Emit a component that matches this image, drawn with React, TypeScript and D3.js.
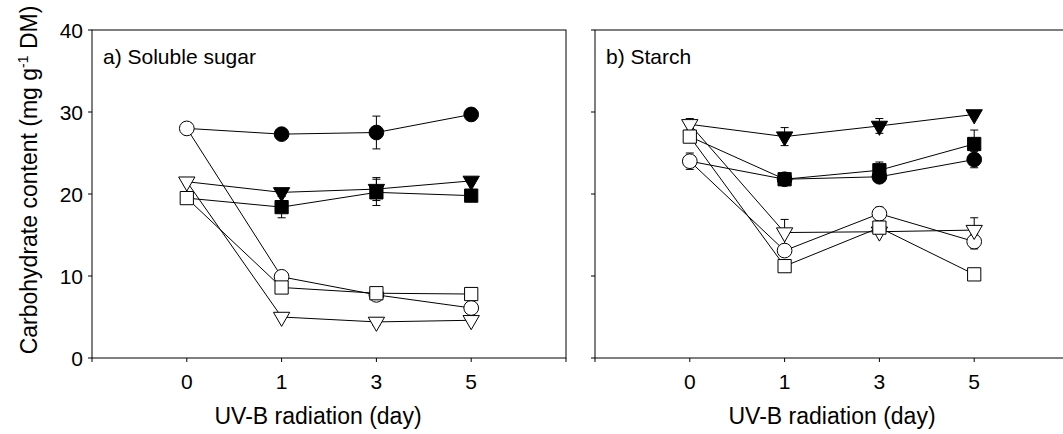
import * as React from "react";
import * as d3 from "d3";

// days of UV-B exposure
const days = ["0", "1", "3", "5"];
const yTicks = [0, 10, 20, 30, 40];

// a) soluble sugar
const sugarFilledCircle = [28.0, 27.3, 27.5, 29.7];
const sugarFilledCircleErr = [0, 0.3, 2.0, 0.3];
const sugarFilledTriangle = [21.5, 20.2, 20.6, 21.6];
const sugarFilledTriangleErr = [0, 0.3, 1.4, 0.3];
const sugarFilledSquare = [19.5, 18.4, 20.2, 19.8];
const sugarFilledSquareErr = [0, 1.3, 1.6, 0.3];
const sugarOpenCircle = [28.0, 9.9, 7.7, 6.1];
const sugarOpenCircleErr = [0.3, 0.3, 0.4, 0.3];
const sugarOpenTriangle = [21.5, 5.0, 4.4, 4.6];
const sugarOpenTriangleErr = [0.3, 0.2, 0.4, 0.3];
const sugarOpenSquare = [19.5, 8.6, 7.9, 7.8];
const sugarOpenSquareErr = [0.3, 0.3, 0.3, 0.2];

// b) starch
const starchFilledCircle = [24.0, 21.8, 22.1, 24.2];
const starchFilledCircleErr = [0, 0.3, 0.3, 1.0];
const starchFilledTriangle = [28.5, 27.0, 28.3, 29.7];
const starchFilledTriangleErr = [0, 1.1, 0.9, 0.3];
const starchFilledSquare = [27.0, 21.8, 22.9, 26.1];
const starchFilledSquareErr = [0, 0.2, 1.0, 1.7];
const starchOpenCircle = [24.0, 13.1, 17.6, 14.2];
const starchOpenCircleErr = [1.0, 0.4, 0.8, 0.9];
const starchOpenTriangle = [28.5, 15.3, 15.4, 15.6];
const starchOpenTriangleErr = [0.7, 1.6, 0.3, 1.5];
const starchOpenSquare = [27.0, 11.2, 15.9, 10.2];
const starchOpenSquareErr = [0.3, 0.3, 0.3, 0.2];

type Series = { v: number[]; e: number[]; shape: string; filled: boolean };

const sugarSeries: Series[] = [
  { v: sugarFilledCircle, e: sugarFilledCircleErr, shape: "circle", filled: true },
  { v: sugarFilledTriangle, e: sugarFilledTriangleErr, shape: "triangle", filled: true },
  { v: sugarFilledSquare, e: sugarFilledSquareErr, shape: "square", filled: true },
  { v: sugarOpenCircle, e: sugarOpenCircleErr, shape: "circle", filled: false },
  { v: sugarOpenTriangle, e: sugarOpenTriangleErr, shape: "triangle", filled: false },
  { v: sugarOpenSquare, e: sugarOpenSquareErr, shape: "square", filled: false },
];

const starchSeries: Series[] = [
  { v: starchFilledCircle, e: starchFilledCircleErr, shape: "circle", filled: true },
  { v: starchFilledTriangle, e: starchFilledTriangleErr, shape: "triangle", filled: true },
  { v: starchFilledSquare, e: starchFilledSquareErr, shape: "square", filled: true },
  { v: starchOpenCircle, e: starchOpenCircleErr, shape: "circle", filled: false },
  { v: starchOpenTriangle, e: starchOpenTriangleErr, shape: "triangle", filled: false },
  { v: starchOpenSquare, e: starchOpenSquareErr, shape: "square", filled: false },
];

const FONT = "Liberation Sans, Arial, sans-serif";
const top = 30;
const bottom = 358;
const panelW = 474;

const symbols: Record<string, string> = {
  circle: d3.symbol(d3.symbolCircle, 170)() as string,
  square: d3.symbol(d3.symbolSquare, 175)() as string,
  triangle: d3.symbol(d3.symbolTriangle, 115)() as string,
};

const Marker = ({ shape, filled, x, y }) => (
  <path
    d={symbols[shape]}
    transform={`translate(${x},${y})${shape === "triangle" ? " rotate(180)" : ""}`}
    fill={filled ? "#000" : "#fff"}
    stroke="#000"
    strokeWidth={1}
  />
);

const Panel = ({ left, label, series, showY, titleX }) => {
  const x = d3.scaleLinear().domain([0, 5]).range([left, left + panelW]);
  const y = d3.scaleLinear().domain([0, 40]).range([bottom, top]);
  const line = d3
    .line<number>()
    .x((_, i) => x(i + 1))
    .y((d) => y(d));

  return (
    <g>
      <rect x={left} y={top} width={panelW} height={bottom - top} fill="none" stroke="#000" strokeWidth={1} />
      {d3.range(0, 6).map((i) => (
        <line key={"xt" + i} x1={x(i)} x2={x(i)} y1={bottom} y2={bottom + 4} stroke="#000" />
      ))}
      {days.map((d, i) => (
        <text key={"xl" + d} x={x(i + 1)} y={389} textAnchor="middle" fontSize={21} fontFamily={FONT}>
          {d}
        </text>
      ))}
      {yTicks.map((t) => (
        <line key={"yt" + t} x1={left - 4} x2={left} y1={y(t)} y2={y(t)} stroke="#000" />
      ))}
      {showY &&
        yTicks.map((t) => (
          <text key={"yl" + t} x={left - 9} y={y(t) + 8} textAnchor="end" fontSize={21} fontFamily={FONT}>
            {t}
          </text>
        ))}
      <text x={left + 11} y={64} fontSize={21} fontFamily={FONT}>
        {label}
      </text>
      <text x={titleX} y={424} textAnchor="middle" fontSize={23} fontFamily={FONT}>
        UV-B radiation (day)
      </text>

      {series.map((s, k) => (
        <path key={"ln" + k} d={line(s.v) as string} fill="none" stroke="#000" strokeWidth={1} />
      ))}
      {series.map((s, k) =>
        s.v.map((v, i) =>
          s.e[i] > 0.25 ? (
            <g key={"eb" + k + "-" + i} stroke="#000" strokeWidth={1}>
              <line x1={x(i + 1)} x2={x(i + 1)} y1={y(v - s.e[i])} y2={y(v + s.e[i])} />
              <line x1={x(i + 1) - 4} x2={x(i + 1) + 4} y1={y(v - s.e[i])} y2={y(v - s.e[i])} />
              <line x1={x(i + 1) - 4} x2={x(i + 1) + 4} y1={y(v + s.e[i])} y2={y(v + s.e[i])} />
            </g>
          ) : null
        )
      )}
      {series.map((s, k) =>
        s.v.map((v, i) =>
          s.filled && i === 0 ? null : (
            <Marker key={"mk" + k + "-" + i} shape={s.shape} filled={s.filled} x={x(i + 1)} y={y(v)} />
          )
        )
      )}
    </g>
  );
};

export default function App() {
  return (
    <svg
      width={1063}
      height={434}
      style={{ position: "absolute", left: 0, top: 0, background: "#fff" }}
    >
      <text
        transform="translate(37,180) rotate(-90)"
        textAnchor="middle"
        fontSize={23}
        fontFamily={FONT}
      >
        Carbohydrate content (mg g
        <tspan dy={-9} fontSize={14}>-1</tspan>
        <tspan dy={9}> DM)</tspan>
      </text>
      <Panel left={92} label="a) Soluble sugar" series={sugarSeries} showY={true} titleX={318} />
      <Panel left={595} label="b) Starch" series={starchSeries} showY={false} titleX={832} />
    </svg>
  );
}
